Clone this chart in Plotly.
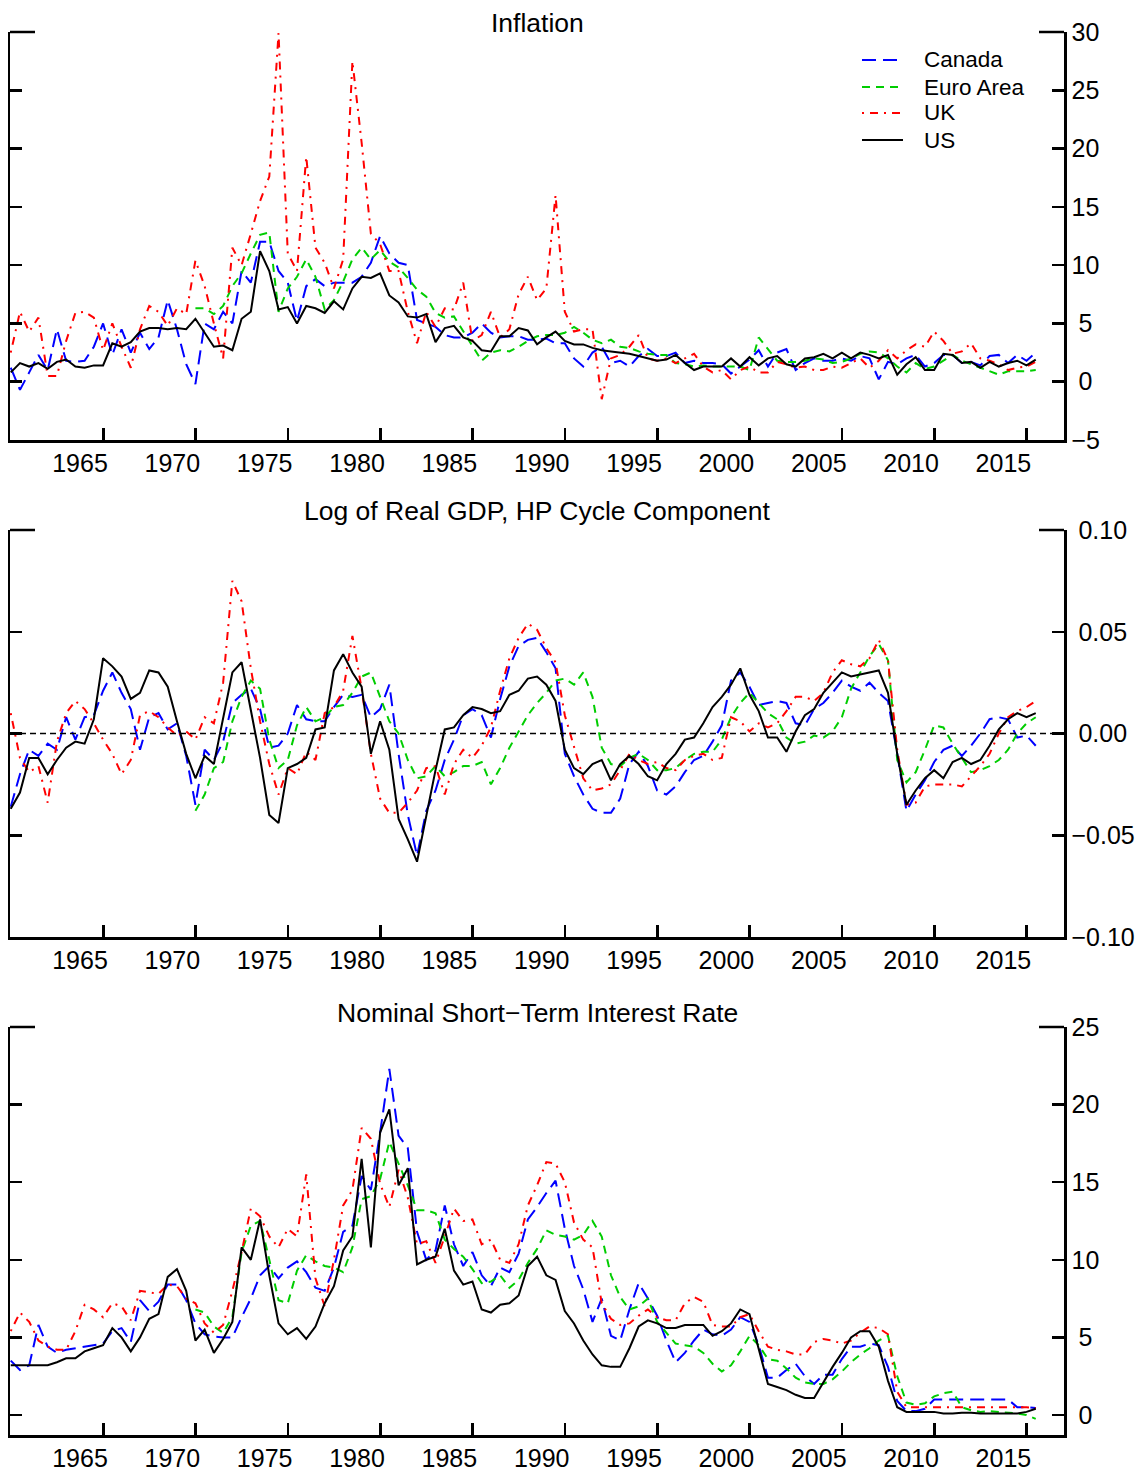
import plotly.graph_objects as go

# ---------------- time grid (semi-annual observations) ----------------
N = 112
dates = [1961.25 + 0.5 * i for i in range(N)]
label_years = [1965, 1970, 1975, 1980, 1985, 1990, 1995, 2000, 2005, 2010, 2015]
tick_years = [y + 1.26 for y in label_years]   # tick marks sit to the right of labels

# ---------------- Inflation ----------------
infl_canada = [1.2, -0.7, 0.8, 2.3, 1.0, 4.5, 1.8, 1.7, 1.8, 3.0, 5.0, 2.3, 4.5, 2.5, 4.2, 2.8, 3.8, 7.0, 4.5, 1.5,
               -0.2, 5.0, 4.5, 6.0, 5.0, 9.5, 8.5, 12.0, 12.0, 9.5, 8.5, 5.2, 8.2, 8.8, 8.2, 8.5, 8.5, 8.5, 9.0, 10.2,
               12.5, 11.0, 10.2,
               10.0, 5.3, 5.0, 4.7, 4.0, 3.8, 3.8, 4.2, 5.0, 4.2, 3.8, 3.9, 3.9, 3.6, 3.6, 3.7, 3.3, 3.3, 2.0, 1.3,
               2.5, 3.0, 1.6, 1.8, 1.3, 2.2, 2.8, 2.2, 2.2, 2.5, 1.6, 1.8, 1.6, 1.6, 1.5, 0.7, 1.3, 1.9, 2.7, 1.3,
               2.5, 2.8, 1.0, 1.6, 2.0, 1.8, 1.8, 2.0, 1.8, 2.2, 2.0, 0.2, 1.7, 1.5, 2.0, 2.3, 1.3, 1.6, 2.3, 2.3,
               1.6, 1.7, 1.4, 2.2, 2.3, 1.6, 2.3, 1.8, 2.5]
infl_euro = [None] * 20 + [
               6.3, 6.3, 5.8, 6.5, 8.2, 9.3, 11.0, 12.6, 12.8, 6.0, 8.0, 9.0, 10.5, 9.0, 6.2, 7.0, 8.6, 10.5, 11.5,
               10.5, 11.3, 10.3, 9.8,
               8.9, 7.9, 7.3, 5.9, 5.5, 5.6, 4.3, 3.0, 1.8, 2.5, 2.7, 2.6, 3.0, 3.5, 3.9, 4.0, 4.0, 4.2, 4.7, 4.2,
               3.6, 3.3, 3.6, 3.0, 2.9, 2.6, 2.4, 2.3, 2.3, 1.6, 1.5, 1.3, 1.4, 1.3, 1.3, 1.3, 1.3, 1.0, 3.8, 2.8,
               1.8, 1.7, 1.7, 1.8, 2.0, 1.9, 1.6, 1.7, 2.0, 2.4, 2.6, 2.5, 2.0, 1.3, 0.8, 1.6, 1.1, 1.3, 1.8, 2.3,
               1.8, 1.5, 1.2, 0.9, 0.6, 0.9, 0.9, 0.9, 1.0]
infl_uk = [2.5, 6.0, 4.3, 5.5, 0.5, 0.5, 3.5, 5.9, 6.0, 5.5, 2.7, 5.0, 3.0, 1.2, 4.5, 6.5, 6.0, 4.8, 6.3, 5.8,
           10.4, 8.2, 5.0, 2.0, 11.5, 10.0, 12.7, 15.5, 17.6, 29.9, 11.0, 9.5, 19.3, 11.5, 10.2, 8.0, 10.5, 27.5,
           20.5, 12.7, 11.8, 9.5, 9.5,
           6.0, 3.3, 6.0, 4.7, 6.3, 6.2, 8.5, 3.5, 4.0, 6.0, 3.8, 4.5, 7.5, 9.0, 7.0, 8.0, 16.0, 6.0, 4.3, 4.5,
           4.5, -1.5, 2.0, 2.3, 3.0, 4.0, 2.0, 1.8, 2.0, 1.6, 2.0, 2.4, 1.3, 0.8, 1.0, 0.2, 1.0, 1.3, 0.8, 0.8,
           1.7, 1.5, 1.2, 1.3, 1.0, 1.0, 1.3, 1.2, 1.6, 2.0, 1.2, 1.8, 2.7, 2.0, 2.7, 3.2, 3.0, 4.3, 3.5, 2.4,
           2.6, 3.3, 2.0, 1.8, 1.5, 1.0, 1.2, 1.3, 1.7]
infl_us = [0.8, 1.6, 1.3, 1.6, 1.1, 1.7, 1.9, 1.3, 1.2, 1.4, 1.4, 3.3, 3.0, 3.4, 4.3, 4.6, 4.6, 4.5, 4.6, 4.5,
           5.4, 4.2, 3.0, 3.1, 2.7, 5.4, 6.0, 11.2, 9.5, 6.2, 6.4, 5.0, 6.5, 6.3, 5.9, 6.9, 6.2, 8.0, 9.0, 8.9,
           9.3, 7.4, 6.8,
           5.6, 5.5, 5.8, 3.4, 4.6, 4.8, 3.8, 3.5, 2.7, 2.6, 3.9, 3.9, 4.6, 4.4, 3.2, 3.8, 4.3, 3.5, 3.2, 3.2,
           2.9, 2.7, 2.6, 2.5, 2.4, 2.2, 2.0, 1.8, 1.9, 2.3, 1.6, 1.0, 1.3, 1.3, 1.3, 2.0, 1.3, 2.1, 1.4, 2.0,
           2.2, 1.5, 1.3, 2.0, 2.1, 2.4, 2.0, 2.5, 2.0, 2.5, 2.3, 2.0, 2.3, 0.6, 1.5, 2.1, 1.0, 1.0, 2.4, 2.3,
           1.6, 1.7, 1.2, 1.7, 1.3, 1.6, 1.8, 1.4, 1.9]

# ---------------- Log of real GDP, HP cycle ----------------
gdp_canada = [-0.036, -0.020, -0.008, -0.011, -0.005, -0.008, 0.008, -0.003, 0.008, 0.009,
              0.021, 0.030, 0.020, 0.012, -0.008, 0.008, 0.010, 0.002, 0.005, -0.011,
              -0.035, -0.008, -0.013, -0.004, 0.015, 0.019, 0.022, 0.012, -0.007, -0.006,
              0.000, 0.014, 0.007, 0.006, 0.006, 0.013, 0.019, 0.018, 0.019, 0.008,
              0.012, 0.024, -0.010, -0.040, -0.060, -0.038, -0.028, -0.013, -0.003, 0.009,
              0.012, 0.009, -0.002, 0.017, 0.033, 0.043, 0.046, 0.047, 0.040, 0.032,
              -0.010, -0.021, -0.030, -0.037, -0.039, -0.039, -0.032, -0.015, -0.009, -0.016,
              -0.028, -0.030, -0.026, -0.019, -0.013, -0.011, -0.004, 0.004, 0.026, 0.030,
              0.023, 0.014, 0.015, 0.016, 0.015, 0.005, 0.004, 0.012, 0.015, 0.020,
              0.026, 0.023, 0.021, 0.025, 0.020, 0.016, -0.010, -0.038, -0.030, -0.023,
              -0.014, -0.008, -0.006, -0.011, -0.006, 0.000, 0.007, 0.008, 0.007, -0.002,
              -0.001, -0.006]
gdp_euro = [None] * 20 + [
              -0.038, -0.030, -0.017, -0.014, 0.006, 0.018, 0.026, 0.022, -0.003, -0.017,
              -0.013, 0.004, 0.013, 0.006, 0.008, 0.013, 0.014, 0.020, 0.028, 0.030,
              0.018, 0.006, 0.000, -0.013, -0.022, -0.021, -0.016, -0.021, -0.019, -0.016,
              -0.016, -0.014, -0.025, -0.017, -0.007, 0.001, 0.009, 0.015, 0.020, 0.026,
              0.027, 0.024, 0.030, 0.018, -0.007, -0.015, -0.016, -0.012, -0.010, -0.013,
              -0.018, -0.018, -0.017, -0.013, -0.010, -0.009, -0.009, -0.003, 0.008, 0.015,
              0.020, 0.015, 0.010, 0.007, -0.002, -0.005, -0.004, -0.001, -0.002, 0.001,
              0.008, 0.022, 0.030, 0.038, 0.044, 0.036, -0.013, -0.024, -0.019, -0.008,
              0.004, 0.003, -0.005, -0.012, -0.019, -0.018, -0.016, -0.013, -0.008, 0.000,
              0.005, 0.008]
gdp_uk = [0.010, -0.012, -0.019, -0.016, -0.034, -0.004, 0.010, 0.016, 0.012, 0.005,
          -0.003, -0.010, -0.020, -0.013, 0.009, 0.011, 0.008, 0.003, -0.001, 0.001,
          -0.003, 0.008, 0.005, 0.025, 0.075, 0.065, 0.032, 0.006, -0.015, -0.030,
          -0.017, -0.020, -0.009, -0.013, 0.010, 0.013, 0.021, 0.048, 0.022, -0.010,
          -0.032, -0.039, -0.039, -0.034, -0.028, -0.017, -0.016, -0.030, -0.015, -0.008,
          -0.012, -0.006, 0.003, 0.021, 0.037, 0.047, 0.054, 0.051, 0.042, 0.035,
          0.009, -0.007, -0.022, -0.028, -0.027, -0.025, -0.018, -0.010, -0.013, -0.015,
          -0.014, -0.017, -0.018, -0.013, -0.011, -0.010, -0.013, -0.012, 0.008, 0.006,
          0.001, 0.005, 0.003, 0.005, 0.011, 0.018, 0.018, 0.016, 0.020, 0.030,
          0.036, 0.034, 0.033, 0.037, 0.046, 0.036, -0.008, -0.035, -0.034, -0.026,
          -0.025, -0.025, -0.025, -0.026, -0.021, -0.016, -0.010, 0.000, 0.008, 0.011,
          0.013, 0.016]
gdp_us = [-0.037, -0.029, -0.012, -0.012, -0.020, -0.013, -0.007, -0.004, -0.005, 0.007,
          0.037, 0.033, 0.028, 0.017, 0.020, 0.031, 0.030, 0.023, 0.006, -0.010,
          -0.022, -0.011, -0.015, 0.007, 0.030, 0.035, 0.012, -0.012, -0.040, -0.044,
          -0.017, -0.015, -0.012, 0.002, 0.003, 0.031, 0.039, 0.030, 0.023, -0.010,
          0.006, -0.008, -0.042, -0.052, -0.063, -0.040, -0.018, 0.002, 0.003, 0.009,
          0.013, 0.012, 0.010, 0.011, 0.019, 0.021, 0.027, 0.028, 0.024, 0.016,
          -0.008, -0.017, -0.020, -0.015, -0.013, -0.023, -0.015, -0.011, -0.015, -0.021,
          -0.023, -0.015, -0.010, -0.003, -0.002, 0.005, 0.013, 0.018, 0.024, 0.032,
          0.019, 0.011, -0.002, -0.002, -0.009, 0.001, 0.009, 0.012, 0.020, 0.025,
          0.030, 0.028, 0.029, 0.030, 0.031, 0.020, -0.010, -0.035, -0.028, -0.022,
          -0.018, -0.022, -0.014, -0.012, -0.015, -0.013, -0.006, 0.002, 0.007, 0.010,
          0.008, 0.010]

# ---------------- Nominal short-term interest rate ----------------
rate_canada = [3.5, 2.9, 3.2, 5.8, 4.4, 4.0, 4.2, 4.3, 4.4, 4.5, 4.6, 5.4, 5.6, 4.7, 7.4, 6.7, 7.3, 8.4, 8.4, 7.4,
               5.9, 5.2, 5.05, 5.0, 5.0, 6.3, 7.5, 9.0, 9.6, 8.8, 9.5, 9.9, 9.2, 8.2, 8.0, 9.5, 11.8, 12.2, 15.4,
               14.5, 18.2, 22.3, 18.0,
               17.2, 11.8, 10.0, 10.6, 13.5, 11.0, 9.6, 10.5, 9.0, 8.3, 9.5, 9.2, 10.4, 12.6, 13.4, 14.3, 15.1,
               12.0, 9.6, 8.1, 6.0, 7.5, 5.1, 4.8, 6.8, 8.5, 7.5, 6.4, 4.8, 3.4, 4.0, 4.8, 5.5, 5.2, 5.1, 5.5,
               6.3, 6.0, 4.5, 2.4,
               2.4, 2.9, 3.3, 2.5, 2.0, 2.6, 2.6, 3.6, 4.4, 4.4, 4.6, 4.5, 3.1, 0.9, 0.25, 0.25, 0.4, 1.0, 1.0,
               1.0, 1.0, 1.0, 1.0, 1.0, 1.0, 1.0, 0.5, 0.5, 0.45]
rate_euro = [None] * 20 + [
               6.8, 6.6, 5.7, 5.3, 6.3, 10.5, 12.2, 12.5, 10.0, 7.4, 7.2, 9.3, 10.3, 9.9, 9.6, 9.5, 9.2, 10.8,
               13.9, 14.1, 15.2, 17.6, 16.2,
               14.8, 13.2, 13.2, 13.0, 11.3, 10.7, 10.2, 9.4, 8.5, 8.6, 9.0, 8.2, 8.7, 9.8, 10.7, 11.9, 11.6,
               11.5, 11.3, 11.6, 12.5, 11.5, 9.0, 7.6, 6.8, 7.0, 7.5, 6.0, 5.3, 4.6, 4.5, 4.4, 4.0, 3.3, 2.8,
               3.2, 4.1, 5.1, 4.5, 3.6,
               3.5, 3.0, 2.4, 2.1, 2.0, 2.0, 2.3, 2.8, 3.4, 3.9, 4.3, 4.8, 5.1, 2.5, 0.8, 0.65, 0.75, 1.2, 1.4,
               1.5, 0.5, 0.3, 0.2, 0.25, 0.2, 0.15, 0.1, 0.0, -0.25]
rate_uk = [5.4, 6.6, 6.0, 4.8, 4.4, 4.2, 4.2, 5.4, 7.1, 6.8, 6.3, 7.2, 7.0, 6.1, 8.0, 7.9, 7.8, 8.4, 8.3, 7.5,
           7.2, 5.9, 5.3, 5.8, 8.0, 10.5, 13.3, 12.8, 11.5, 10.8, 12.0, 11.5, 15.5, 8.8, 7.0, 10.0, 13.5, 14.5,
           18.5, 17.8, 14.9, 13.4, 15.8,
           14.0, 11.0, 11.2, 9.8, 11.5, 13.3, 12.5, 12.6, 11.0, 11.3, 10.0, 9.8, 11.0, 13.5, 14.8, 16.3, 16.2,
           15.0, 12.4, 11.3, 10.8, 7.2, 6.2, 5.8, 5.9, 6.4, 6.8, 6.3, 6.1, 6.1, 7.2, 7.6, 7.3, 5.8, 5.7, 5.7,
           6.3, 6.5, 5.4, 4.4,
           4.2, 4.1, 3.9, 3.9, 4.7, 4.9, 4.8, 4.6, 4.8, 5.3, 5.7, 5.6, 5.2, 1.5, 0.5, 0.5, 0.5, 0.5, 0.5,
           0.5, 0.5, 0.5, 0.5, 0.5, 0.5, 0.5, 0.5, 0.5, 0.45]
rate_us = [3.2, 3.2, 3.2, 3.2, 3.2, 3.4, 3.65, 3.65, 4.1, 4.3, 4.5, 5.6, 5.0, 4.1, 5.0, 6.2, 6.5, 8.9, 9.4, 8.0,
           4.8, 5.5, 4.0, 4.9, 6.0, 10.8, 10.0, 12.6, 9.0, 5.9, 5.2, 5.6, 4.9, 5.7, 7.2, 8.3, 10.6, 11.5, 16.5,
           10.8, 18.2, 19.7, 14.8,
           15.9, 9.7, 10.0, 10.2, 12.0, 9.3, 8.4, 8.6, 6.8, 6.6, 7.1, 7.2, 7.7, 9.6, 10.2, 9.0, 8.7, 6.7, 5.9,
           4.8, 3.9, 3.2, 3.1, 3.1, 4.3, 5.7, 6.1, 5.9, 5.6, 5.6, 5.8, 5.8, 5.8, 5.1, 5.4, 5.9, 6.8, 6.5, 4.3,
           2.0,
           1.8, 1.6, 1.3, 1.1, 1.1, 2.1, 3.1, 4.0, 5.0, 5.4, 5.4, 4.4, 2.2, 0.5, 0.2, 0.2, 0.2, 0.2, 0.1, 0.1,
           0.15, 0.15, 0.1, 0.1, 0.1, 0.1, 0.1, 0.2, 0.4]

countries = ["Canada", "Euro Area", "UK", "US"]
panels = [
    ("Inflation", [infl_canada, infl_euro, infl_uk, infl_us]),
    ("Log of Real GDP, HP Cycle Component", [gdp_canada, gdp_euro, gdp_uk, gdp_us]),
    ("Nominal Short\u2212Term Interest Rate", [rate_canada, rate_euro, rate_uk, rate_us]),
]
for _, ser in panels:
    for s in ser:
        assert len(s) == N, len(s)

# right-axis tick labels (centred under one another, as in the original)
NB = "\u00a0"
ytick_vals = [[-5, 0, 5, 10, 15, 20, 25, 30], [-0.10, -0.05, 0.0, 0.05, 0.10], [0, 5, 10, 15, 20, 25]]
ytick_text = [["\u22125", NB + "0", NB + "5", "10", "15", "20", "25", "30"],
              ["\u22120.10", "\u22120.05", NB + "0.00", NB + "0.05", NB + "0.10"],
              [NB + "0", NB + "5", "10", "15", "20", "25"]]

styles = {
    "Canada": dict(color="#0000FF", dash="14px,7px"),
    "Euro Area": dict(color="#00CD00", dash="8px,6px"),
    "UK": dict(color="#FF0000", dash="2px,6px,8px,6px"),
    "US": dict(color="#000000", dash="solid"),
}

FONT = "Liberation Sans, Arial, Helvetica, sans-serif"
OFF = 8                                   # default body margin of the html page
W, H = 1146 - OFF, 1475 - OFF
LEFT_PX, RIGHT_PX, TOP_PX, BOTTOM_PX = 10, 1064, 32, 1435   # frame in page pixels
ML = LEFT_PX - OFF
MR = W - (RIGHT_PX - OFF)
MT = TOP_PX - OFF
MB = H - (BOTTOM_PX - OFF)
plot_h = H - MT - MB
plot_w = W - ML - MR

def py(px):  # page pixel row -> paper fraction
    return (BOTTOM_PX - px) / plot_h

def pxx(px):  # page pixel column -> paper fraction
    return (px - LEFT_PX) / plot_w

domains = [(py(440), py(32)), (py(937), py(530)), (py(1435), py(1027))]
yranges = [[-5, 30], [-0.10, 0.10], [-1.29, 25]]
title_px = [23, 511, 1013]
xrange_ = [1961.21, 2018.28]

fig = go.Figure()
for p, (title, ser) in enumerate(panels):
    sfx = "" if p == 0 else str(p + 1)
    for name, vals in zip(countries, ser):
        st = styles[name]
        fig.add_trace(go.Scatter(
            x=dates, y=vals, mode="lines", name=name, showlegend=False,
            xaxis="x" + sfx, yaxis="y" + sfx, connectgaps=False,
            line=dict(color=st["color"], dash=st["dash"], width=2)))
    # empty companion trace so the label/left-tick axes get drawn
    fig.add_trace(go.Scatter(x=[None], y=[None], mode="lines", showlegend=False,
                             hoverinfo="skip", xaxis=f"x{p+4}", yaxis=f"y{p+4}"))

layout = dict(
    width=W, height=H, margin=dict(l=ML, r=MR, t=MT, b=MB),
    paper_bgcolor="white", plot_bgcolor="white",
    font=dict(family=FONT, size=25, color="black"),
    showlegend=False,
)
annotations = []
shapes = []
seg = 25 / plot_w
for p in range(3):
    sfx = "" if p == 0 else str(p + 1)
    lab_sfx = str(p + 4)
    layout[f"xaxis{sfx}"] = dict(
        domain=[0, 1], range=xrange_, anchor=f"y{sfx}", showgrid=False, zeroline=False,
        showline=True, linecolor="black", linewidth=2.5,
        tickmode="array", tickvals=tick_years, ticks="inside", ticklen=12, tickwidth=2.5,
        tickcolor="black", showticklabels=False)
    layout[f"xaxis{lab_sfx}"] = dict(
        overlaying=f"x{sfx}", range=xrange_, anchor=f"y{sfx}", side="bottom",
        showgrid=False, zeroline=False, showline=False, ticks="",
        tickmode="array", tickvals=label_years, ticktext=[str(y) for y in label_years],
        tickfont=dict(size=25, family=FONT), ticklabelstandoff=6)
    layout[f"yaxis{sfx}"] = dict(
        domain=list(domains[p]), range=yranges[p], anchor=f"x{sfx}", side="right",
        showgrid=False, zeroline=False, showline=True, linecolor="black", linewidth=2.5,
        tickmode="array", tickvals=ytick_vals[p], ticktext=ytick_text[p],
        ticks="inside", ticklen=12, tickwidth=2.5, tickcolor="black",
        tickfont=dict(size=25, family=FONT), ticklabelstandoff=0)
    layout[f"yaxis{lab_sfx}"] = dict(
        overlaying=f"y{sfx}", range=yranges[p], anchor=f"x{sfx}", side="left",
        showgrid=False, zeroline=False, showline=True, linecolor="black", linewidth=2.5,
        tickmode="array", tickvals=ytick_vals[p], ticks="inside", ticklen=12, tickwidth=2.5,
        tickcolor="black", showticklabels=False)
    dref_x = f"x{sfx} domain"
    dref_y = f"y{sfx} domain"
    shapes.append(dict(type="line", xref=dref_x, yref=dref_y, x0=0, x1=seg, y0=1, y1=1,
                       line=dict(color="black", width=2.5)))
    shapes.append(dict(type="line", xref=dref_x, yref=dref_y, x0=1 - seg, x1=1, y0=1, y1=1,
                       line=dict(color="black", width=2.5)))
    annotations.append(dict(text=panels[p][0], xref="paper", yref="paper", x=0.5,
                            y=py(title_px[p]), xanchor="center", yanchor="middle",
                            showarrow=False, font=dict(size=26.5, family=FONT)))

# zero reference line in GDP panel
shapes.append(dict(type="line", xref="x2 domain", yref="y2", x0=0, x1=1, y0=0, y1=0,
                   line=dict(color="black", width=1.3, dash="6px,4px")))

# legend (key samples + labels) in the top-right of the inflation panel
legend_rows = [60, 87, 113, 140]
for name, row in zip(countries, legend_rows):
    st = styles[name]
    shapes.append(dict(type="line", xref="paper", yref="paper", x0=pxx(862), x1=pxx(903),
                       y0=py(row), y1=py(row),
                       line=dict(color=st["color"], dash=st["dash"], width=2)))
    annotations.append(dict(text=name, xref="paper", yref="paper", x=pxx(922), y=py(row),
                            xanchor="left", yanchor="middle", showarrow=False,
                            font=dict(size=22.5, family=FONT)))

layout["annotations"] = annotations
layout["shapes"] = shapes
fig.update_layout(**layout)
fig.write_html("out.html", config={"displayModeBar": False, "staticPlot": True})
